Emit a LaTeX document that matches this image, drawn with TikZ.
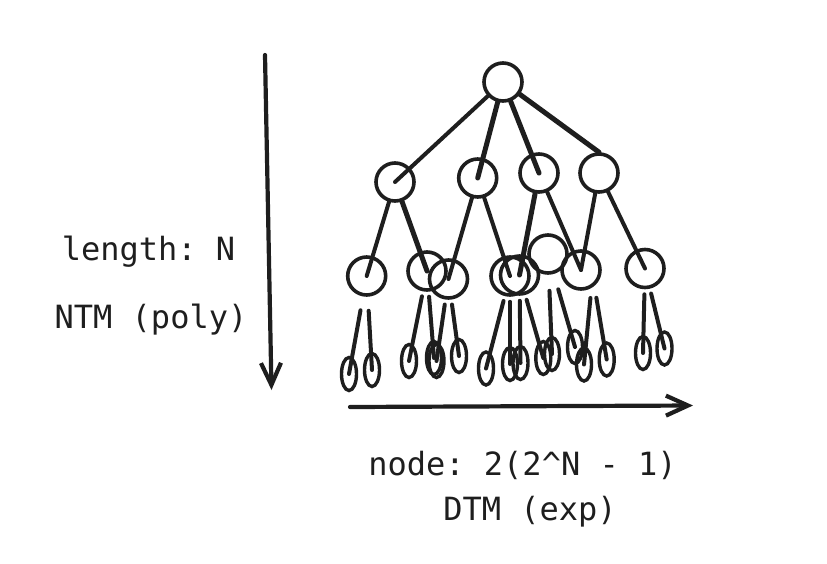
\documentclass[tikz,border=0pt]{standalone}
\usepackage{xcolor}
\usepackage{fontspec}
\setmonofont{DejaVu Sans Mono}
\usepackage{tikz}
\usetikzlibrary{arrows.meta,shapes.geometric}
\definecolor{pen}{HTML}{1E1E1E}

\begin{document}
\begin{tikzpicture}[
    x=1pt, y=-1pt,
    vert/.style={draw=pen, line width=3.6pt, circle, minimum size=38pt, inner sep=0pt},
    leaf/.style={draw=pen, line width=3.4pt, ellipse, minimum width=15pt, minimum height=33pt, inner sep=0pt},
    edge/.style={draw=pen, line width=4pt, line cap=round},
    leafedge/.style={edge, shorten <=5pt},
    arr/.style={draw=pen, line width=4.2pt, line cap=round, -{Straight Barb[length=22pt, width=20pt]}},
    lbl/.style={font=\ttfamily\fontsize{32}{38}\selectfont, text=pen, anchor=base},
]
    \useasboundingbox (0,0) rectangle (827,563);

    % Root and first level
    \node[vert] (root) at (503, 82) {};
    \node[vert] (m1) at (395, 182) {};
    \node[vert] (m2) at (477.7, 178) {};
    \node[vert] (m3) at (539, 173) {};
    \node[vert] (m4) at (599, 173) {};

    % Second level
    \node[vert] (s1) at (366.7, 276) {};
    \node[vert] (s2) at (427, 271) {};
    \node[vert] (s3) at (448.5, 279) {};
    \node[vert] (s4) at (510, 276) {};
    \node[vert] (s5) at (519.5, 275) {};
    \node[vert] (s6) at (548, 254) {};
    \node[vert] (s7) at (581, 270) {};
    \node[vert] (s8) at (645, 268.5) {};

    % Leaves
    \node[leaf] (e1) at (349, 374) {};
    \node[leaf] (e2) at (372, 370) {};
    \node[leaf] (e3) at (409, 361) {};
    \node[leaf] (e4) at (434, 358) {};
    \node[leaf] (e5) at (436.5, 361) {};
    \node[leaf] (e6) at (459, 356) {};
    \node[leaf] (e7) at (486, 368.5) {};
    \node[leaf] (e8) at (510, 364) {};
    \node[leaf] (e9) at (520.5, 363) {};
    \node[leaf] (e10) at (543.3, 358) {};
    \node[leaf] (e11) at (552, 354) {};
    \node[leaf] (e12) at (575, 347) {};
    \node[leaf] (e13) at (584, 364.5) {};
    \node[leaf] (e14) at (606.7, 359.5) {};
    \node[leaf] (e15) at (643, 353) {};
    \node[leaf] (e16) at (664.5, 348.5) {};

    % Tree edges
    \draw[edge] (root) -- (m1.center);
    \draw[edge, line width=5pt] (root) -- (m2.center);
    \draw[edge, line width=5pt] (root) -- (m3.center);
    \draw[edge, line width=5pt] (root) -- (m4.north);
    \draw[edge] (m1) -- (s1.center);
    \draw[edge, line width=5pt] (m1) -- (s2.center);
    \draw[edge] (m2) -- (s3.center);
    \draw[edge] (m2) -- (s4.center);
    \draw[edge, line width=5pt] (m3) -- (s5.center);
    \draw[edge] (m3) -- (s7.center);
    \draw[edge] (m4) -- (s7.center);
    \draw[edge] (m4) -- (s8.center);

    \draw[leafedge, shorten <=14pt] (s1) -- (e1.center);
    \draw[leafedge, shorten <=14pt] (s1) -- (e2.center);
    \draw[leafedge] (s2) -- (e3.center);
    \draw[leafedge] (s2) -- (e4.center);
    \draw[leafedge] (s3) -- (e5.center);
    \draw[leafedge] (s3) -- (e6.center);
    \draw[leafedge] (s4) -- (e7.center);
    \draw[leafedge] (s4) -- (e8.center);
    \draw[leafedge] (s5) -- (e9.center);
    \draw[leafedge] (s5) -- (e10.center);
    \draw[leafedge, shorten <=16pt] (s6) -- (e11.center);
    \draw[leafedge, shorten <=16pt] (s6) -- (e12.center);
    \draw[leafedge, shorten <=10pt] (s7.-60) -- (e13.center);
    \draw[leafedge, shorten <=12pt] (s7.-50) -- (e14.center);
    \draw[leafedge] (s8) -- (e15.center);
    \draw[leafedge] (s8) -- (e16.center);

    % Axes
    \coordinate (down_top) at (265, 55);
    \coordinate (down_tip) at (271.5, 390);
    \coordinate (right_start) at (350, 407);
    \coordinate (right_tip) at (693, 405.5);
    \draw[arr] (down_top) -- (down_tip);
    \draw[arr] (right_start) -- (right_tip);

    % Labels
    \node[lbl] (len) at (148.5, 260) {length: N};
    \node[lbl] (ntm) at (151, 328) {NTM (poly)};
    \node[lbl] (cnt) at (522.5, 475) {node: 2(2\char`\^N - 1)};
    \node[lbl] (dtm) at (530, 520) {DTM (exp)};
\end{tikzpicture}
\end{document}
